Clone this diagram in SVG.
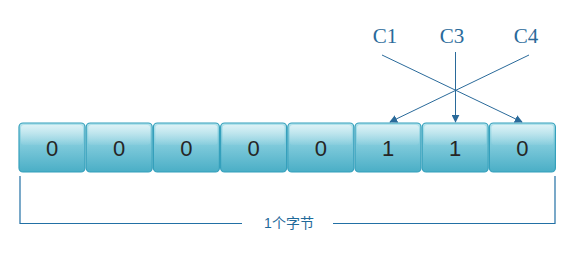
<svg xmlns="http://www.w3.org/2000/svg" width="579" height="253" viewBox="0 0 579 253">
<defs>
<linearGradient id="g" x1="0" y1="0" x2="0" y2="1">
<stop offset="0" stop-color="#b4e3ec"/>
<stop offset="0.45" stop-color="#7fcadb"/>
<stop offset="1" stop-color="#4aaec6"/>
</linearGradient>
<linearGradient id="h" x1="0" y1="0" x2="0" y2="1">
<stop offset="0" stop-color="#ffffff" stop-opacity="0.55"/>
<stop offset="1" stop-color="#ffffff" stop-opacity="0.05"/>
</linearGradient>
<marker id="arr" viewBox="0 0 10 10" refX="9" refY="5" markerWidth="8" markerHeight="8" markerUnits="userSpaceOnUse" orient="auto">
<path d="M0,0 L10,5 L0,10 z" fill="#2a6a9a"/>
</marker>
<style>
.box{fill:url(#g);stroke:#35a0bc;stroke-width:1.2}
.hl{fill:url(#h)}
.bit{font-family:"Liberation Sans",Arial,sans-serif;font-size:22px;fill:#262626;text-anchor:middle}
.lbl{font-family:"Liberation Serif","Times New Roman",serif;font-size:21px;fill:#2a6a9a;text-anchor:middle}
.cap{font-family:"Liberation Sans","Noto Sans CJK SC",sans-serif;font-size:14px;fill:#1f6a9a;text-anchor:middle}
.ln{stroke:#2a6a9a;stroke-width:1;fill:none}
.br{stroke:#2270a5;stroke-width:1.2;fill:none}
</style>
</defs>
<g id="b0"><rect class="box" x="19" y="123" width="66" height="49" rx="4"/><rect class="hl" x="21" y="125" width="62" height="20" rx="3"/><text class="bit" x="52" y="156">0</text></g>
<g id="b1"><rect class="box" x="86.2" y="123" width="66" height="49" rx="4"/><rect class="hl" x="88.2" y="125" width="62" height="20" rx="3"/><text class="bit" x="119.2" y="156">0</text></g>
<g id="b2"><rect class="box" x="153.4" y="123" width="66" height="49" rx="4"/><rect class="hl" x="155.4" y="125" width="62" height="20" rx="3"/><text class="bit" x="186.4" y="156">0</text></g>
<g id="b3"><rect class="box" x="220.6" y="123" width="66" height="49" rx="4"/><rect class="hl" x="222.6" y="125" width="62" height="20" rx="3"/><text class="bit" x="253.6" y="156">0</text></g>
<g id="b4"><rect class="box" x="287.8" y="123" width="66" height="49" rx="4"/><rect class="hl" x="289.8" y="125" width="62" height="20" rx="3"/><text class="bit" x="320.8" y="156">0</text></g>
<g id="b5"><rect class="box" x="355" y="123" width="66" height="49" rx="4"/><rect class="hl" x="357" y="125" width="62" height="20" rx="3"/><text class="bit" x="388" y="156">1</text></g>
<g id="b6"><rect class="box" x="422.2" y="123" width="66" height="49" rx="4"/><rect class="hl" x="424.2" y="125" width="62" height="20" rx="3"/><text class="bit" x="455.2" y="156">1</text></g>
<g id="b7"><rect class="box" x="489.4" y="123" width="66" height="49" rx="4"/><rect class="hl" x="491.4" y="125" width="62" height="20" rx="3"/><text class="bit" x="522.4" y="156">0</text></g>
<g id="c1"><text class="lbl" x="385" y="43">C1</text></g>
<g id="c3"><text class="lbl" x="452" y="43">C3</text></g>
<g id="c4"><text class="lbl" x="526" y="43">C4</text></g>
<g id="connectors">
<line class="ln" x1="382" y1="55" x2="522" y2="122" marker-end="url(#arr)"/>
<line class="ln" x1="455.5" y1="52" x2="455.5" y2="122" marker-end="url(#arr)"/>
<line class="ln" x1="529" y1="55" x2="390" y2="122" marker-end="url(#arr)"/>
</g>
<g id="brace">
<path class="br" d="M20,176 V223.5 H242"/>
<path class="br" d="M333,223.5 H555 V176"/>
<text class="cap" x="289" y="228">1个字节</text>
</g>
</svg>
